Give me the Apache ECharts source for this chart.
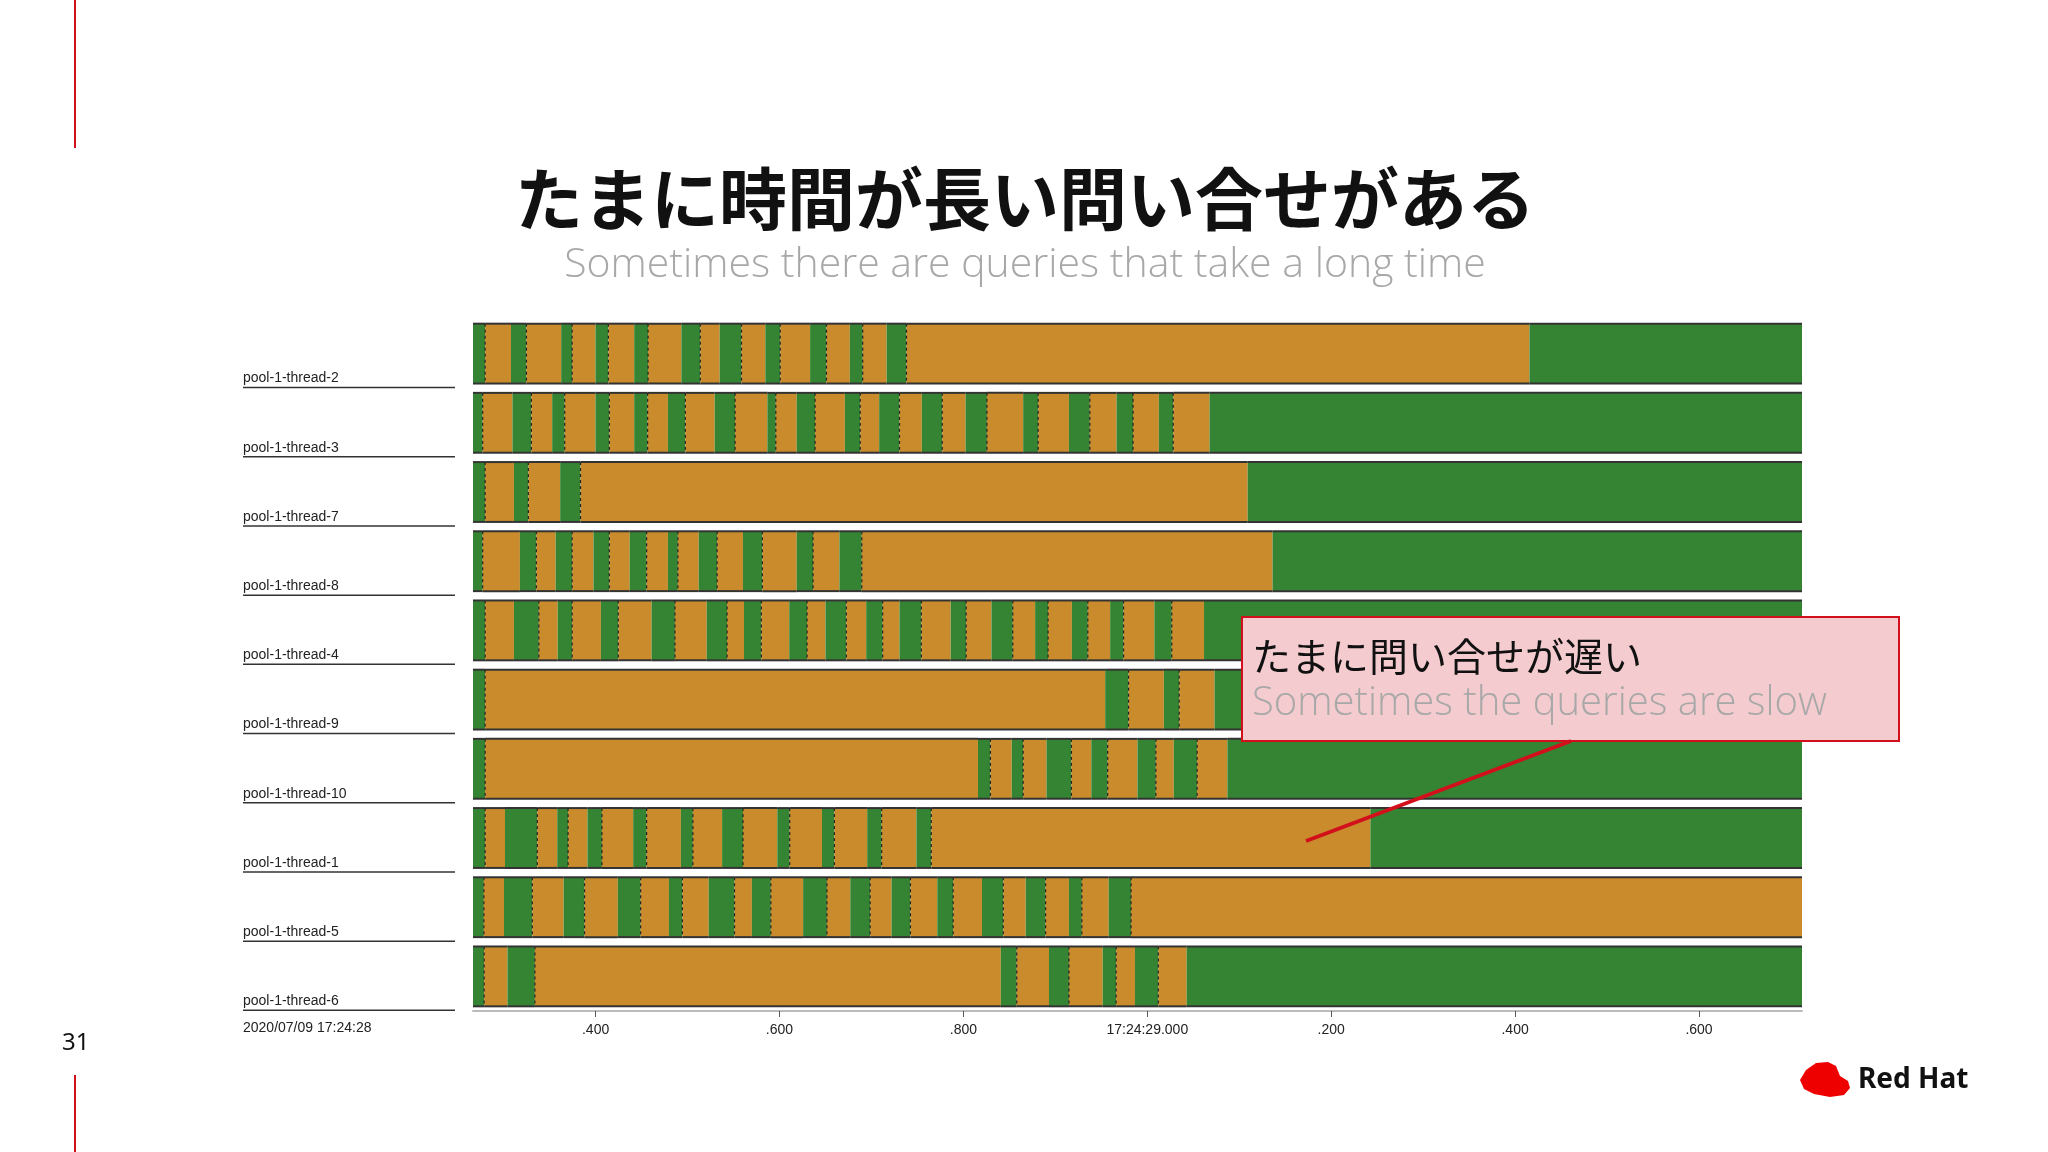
<!DOCTYPE html>
<html><head><meta charset="utf-8">
<script src="https://cdn.jsdelivr.net/npm/echarts@6/dist/echarts.min.js"></script>
<style>html,body{margin:0;padding:0;background:#fff}#c{width:2048px;height:1152px}</style>
</head><body><div id="c"></div>
<script>
// time in ms after 17:24:28.000
const timeMin = 266.7;
const timeMax = 1712;
const threads = ['pool-1-thread-2','pool-1-thread-3','pool-1-thread-7','pool-1-thread-8','pool-1-thread-4','pool-1-thread-9','pool-1-thread-10','pool-1-thread-1','pool-1-thread-5','pool-1-thread-6'];
// green (running) intervals per thread; gaps are orange (waiting)
const green_t2 = [[266.4,279.9],[308,324.8],[362.6,374.5],[399.9,413.9],[442,457.1],[493.3,513.9],[535,558.7],[584.6,600.8],[633.3,651.1],[676.5,690.5],[716.5,738.1],[1415.6,1712]];
const green_t3 = [[266.4,277.2],[309.6,330.2],[352.8,366.4],[399.9,415],[442,456.6],[478.7,497.6],[529.5,551.7],[586.8,596],[618.7,638.7],[671.1,687.8],[708.4,730.5],[754.8,777],[802.4,825.6],[865,881.3],[914.8,937.5],[966.6,984.5],[1012.6,1028.2],[1067.7,1712]];
const green_t7 = [[266.4,279.9],[311.2,326.9],[361.5,383.6],[1109.2,1712]];
const green_t8 = [[266.4,277.2],[317.7,335.6],[356.6,374.5],[397.7,415],[437.1,455.5],[478.7,489.5],[512.2,532.2],[560.3,581.4],[618.7,636.5],[665.2,689.5],[1136.2,1712]];
const green_t4 = [[266.4,279.9],[311.2,338.3],[358.8,374.5],[405.8,424.7],[460.9,486.3],[520.9,543],[561.4,580.3],[610.6,630],[650,672.7],[694.3,712.2],[730.5,754.3],[786.2,803],[830.5,853.7],[878,892.1],[918,935.3],[959.6,974.2],[1007.7,1026.6],[1061.7,1712]];
const green_t9 = [[266.4,279.9],[954.2,979.6],[1018,1034.7],[1073.1,1712]];
const green_t10 = [[266.4,279.9],[815.9,829.4],[852.6,865],[890.4,917.5],[939.1,956.9],[989.3,1009.3],[1028.8,1054.2],[1087.1,1712]];
const green_t1 = [[266.4,279.9],[301.5,336.6],[358.3,370.1],[391.2,406.9],[440.9,455.5],[492.8,505.8],[537.6,560.3],[597.6,611.1],[646.2,659.7],[695.4,711.1],[748.9,765.1],[1242.6,1712]];
const green_t5 = [[266.4,278.5],[300.4,331.2],[365.3,388],[424.2,449],[479.8,494.4],[523,551.1],[570,590.6],[625.7,651.6],[677,698.6],[721.9,742.4],[771.6,788.9],[820.2,843.4],[867.8,889.4],[914.8,928.8],[958,982.3]];
const green_t6 = [[266.4,278.8],[304.2,334],[840.7,858],[893.1,914.8],[951.5,966.1],[986.6,1012],[1042.8,1712]];
const tickValues = [400,600,800,1000,1200,1400,1600];
const tickLabels = ['.400','.600','.800','17:24:29.000','.200','.400','.600'];
const startLabel = '2020/07/09 17:24:28';

const greens = [green_t2,green_t3,green_t7,green_t8,green_t4,green_t9,green_t10,green_t1,green_t5,green_t6];
const segs = [];
greens.forEach((g,row)=>{
  let t = timeMin;
  g.forEach(([a,b])=>{
    const s = Math.max(a,timeMin);
    if (s > t) segs.push([t,s,row,0]);
    segs.push([s,Math.min(b,timeMax),row,1]);
    t = Math.min(b,timeMax);
  });
  if (t < timeMax) segs.push([t,timeMax,row,0]);
});

const chart = echarts.init(document.getElementById('c'));
const RED='#d1101c';
chart.setOption({
  backgroundColor:'#ffffff',
  animation:false,
  grid:{left:473,right:246,top:319,height:692},
  xAxis:{type:'value',min:timeMin,max:timeMax,
    axisLine:{show:true,lineStyle:{color:'#bbb',width:2}},
    axisTick:{show:true,customValues:tickValues,length:6,lineStyle:{color:'#555'}},
    splitLine:{show:false},
    axisLabel:{customValues:tickValues,formatter:v=>tickLabels[tickValues.indexOf(v)],
      color:'#222',fontSize:14,fontFamily:'Liberation Sans',margin:12}},
  yAxis:{type:'category',data:threads,inverse:true,
    axisLine:{show:false},axisTick:{show:false},axisLabel:{show:false}},
  series:[{type:'custom',encode:{x:[0,1],y:2},data:segs,clip:false,z:2,
    renderItem:(params,api)=>{
      const a=api.coord([api.value(0),api.value(2)]);
      const b=api.coord([api.value(1),api.value(2)]);
      const h=api.size([0,1])[1]*0.865;
      const state=api.value(3);
      const children=[{type:'rect',shape:{x:a[0],y:a[1]-h/2,width:b[0]-a[0],height:h},
        style:{fill:state?'#358433':'#c98b2c'}}];
      children.push({type:'line',shape:{x1:a[0],y1:a[1]-h/2,x2:b[0],y2:a[1]-h/2},style:{stroke:'#333',lineWidth:2}});
      children.push({type:'line',shape:{x1:a[0],y1:a[1]+h/2,x2:b[0],y2:a[1]+h/2},style:{stroke:'#333',lineWidth:2}});
      if(!state && api.value(0)>timeMin+1){
        children.push({type:'line',shape:{x1:a[0],y1:a[1]-h/2,x2:a[0],y2:a[1]+h/2},style:{stroke:'#222',lineWidth:1.2,lineDash:[3,3]}});
      }
      if(api.value(0)<=timeMin+0.01){
        children.push({type:'line',shape:{x1:243,y1:a[1]+h/2+4,x2:455,y2:a[1]+h/2+4},style:{stroke:'#333',lineWidth:1.5}});
        children.push({type:'text',x:243,y:a[1]+h/2+2,style:{text:threads[api.value(2)],fontSize:14,fontFamily:'Liberation Sans',fill:'#222',verticalAlign:'bottom'}});
      }
      return {type:'group',children};
    }}],
  graphic:[
    {type:'line',z:100,shape:{x1:75,y1:0,x2:75,y2:148},style:{stroke:RED,lineWidth:2}},
    {type:'line',z:100,shape:{x1:75,y1:1075,x2:75,y2:1152},style:{stroke:RED,lineWidth:2}},
    {type:'text',z:100,x:62,y:1043,style:{text:'31',fontSize:24,fontFamily:'Noto Sans',fill:'#111',verticalAlign:'middle'}},
    {type:'text',z:100,x:1025,y:199,style:{text:'たまに時間が長い問い合せがある',fontSize:68,fontWeight:'bold',fontFamily:'Noto Sans CJK JP',fill:'#111',align:'center',verticalAlign:'middle'}},
    {type:'text',z:100,x:1025,y:265,style:{text:'Sometimes there are queries that take a long time',fontSize:41,fontWeight:300,fontFamily:'Open Sans',fill:'#a8a8a8',align:'center',verticalAlign:'middle'}},
    {type:'text',z:100,x:243,y:1028,style:{text:startLabel,fontSize:14,fontFamily:'Liberation Sans',fill:'#222',verticalAlign:'middle'}},
    {type:'rect',z:100,shape:{x:1242,y:617,width:657,height:124},style:{fill:'#f4cbce',stroke:RED,lineWidth:2}},
    {type:'text',z:101,x:1252,y:656,style:{text:'たまに問い合せが遅い',fontSize:39,fontFamily:'Noto Sans CJK JP',fill:'#111',verticalAlign:'middle'}},
    {type:'text',z:101,x:1252,y:704,style:{text:'Sometimes the queries are slow',fontSize:40,fontWeight:300,fontFamily:'Open Sans',fill:'#a8a8a8',verticalAlign:'middle'}},
    {type:'line',z:100,shape:{x1:1306,y1:841,x2:1571,y2:741},style:{stroke:RED,lineWidth:4}},
    {type:'polygon',z:100,shape:{points:[[1800,1080],[1806,1070],[1816,1063],[1828,1062],[1836,1066],[1840,1076],[1848,1081],[1850,1088],[1844,1095],[1830,1097],[1814,1094],[1804,1089]]},style:{fill:'#e00'}},
    {type:'text',z:100,x:1858,y:1080,style:{text:'Red Hat',fontSize:28,fontWeight:'bold',fontFamily:'Noto Sans',fill:'#111',verticalAlign:'middle'}}
  ]
});
</script></body></html>
